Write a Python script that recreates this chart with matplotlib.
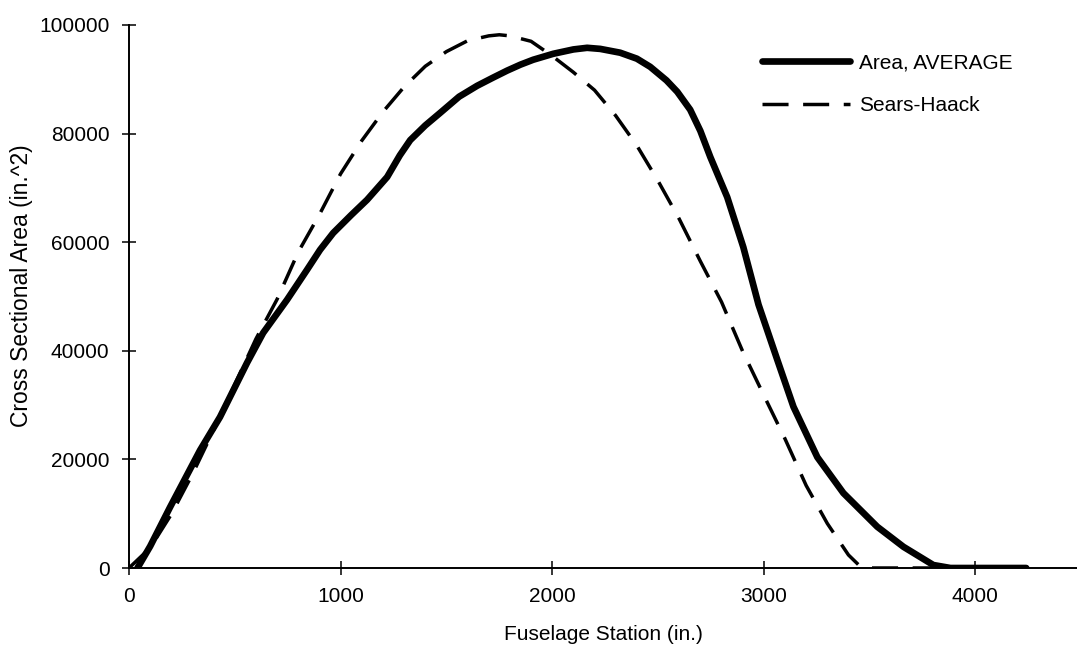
import matplotlib
matplotlib.use("Agg")
import matplotlib.pyplot as plt

# Area, AVERAGE (solid)
avg_x = [40, 100, 194, 336, 430, 558, 634, 747, 841, 903, 965, 1050, 1125, 1220, 1280,
         1329, 1400, 1470, 1560, 1645, 1720, 1787, 1850, 1910, 2005, 2100, 2165, 2227,
         2321, 2400, 2463, 2540, 2591, 2652, 2700, 2747, 2827, 2903, 2975, 3064, 3140,
         3253, 3376, 3536, 3660, 3801, 3882, 4240]
avg_y = [0, 4000, 11200, 21700, 27800, 37800, 43300, 49400, 54900, 58600, 61700, 65000,
         67800, 72000, 76000, 78800, 81500, 83800, 86800, 88800, 90300, 91600, 92700,
         93600, 94700, 95500, 95800, 95600, 94900, 93800, 92300, 89800, 87700, 84400,
         80500, 75700, 68300, 59100, 48500, 38300, 29700, 20400, 13800, 7600, 3900, 550,
         0, 0]

# Sears-Haack (dashed)
sh_x = [0, 100, 200, 300, 400, 500, 600, 700, 800, 900, 1000, 1100, 1200, 1300, 1400,
        1500, 1600, 1700, 1750, 1800, 1900, 2000, 2100, 2200, 2300, 2400, 2500, 2600,
        2700, 2800, 2900, 3000, 3100, 3200, 3300, 3400, 3450, 3490, 4240]
sh_y = [0, 3700, 9900, 17300, 25400, 33800, 42200, 49500, 58200, 65100, 72600, 78700,
        84000, 88600, 92400, 95100, 97100, 98000, 98200, 98000, 97000, 94300, 91300,
        88000, 83300, 77800, 71300, 64300, 56500, 49000, 39900, 31800, 23800, 15200,
        8200, 2400, 500, 0, 0]

x_ticks = [0, 1000, 2000, 3000, 4000]
y_ticks = [0, 20000, 40000, 60000, 80000, 100000]

plt.rcParams['font.family'] = ['Liberation Sans', 'DejaVu Sans']

W, H = 1077, 646
fig = plt.figure(figsize=(W / 100, H / 100), dpi=100)
ax = fig.add_axes([129 / W, 1 - 568 / H, 948 / W, 543 / H])

ax.plot(avg_x, avg_y, color='black', lw=4.8, solid_capstyle='round',
        solid_joinstyle='round', label='Area, AVERAGE')
ax.plot(sh_x, sh_y, color='black', lw=2.5, dashes=(7.5, 4.2), label='Sears-Haack')

ax.set_xlim(0, 4480)
ax.set_ylim(0, 100000)
ax.set_xticks(x_ticks)
ax.set_yticks(y_ticks)
ax.set_xticklabels([str(v) for v in x_ticks])
ax.set_yticklabels([str(v) for v in y_ticks])
for s in ['top', 'right']:
    ax.spines[s].set_visible(False)
for s in ['left', 'bottom']:
    ax.spines[s].set_linewidth(1.4)
ax.tick_params(direction='inout', length=10, width=1.1, labelsize=15, pad=9)
ax.set_xlabel('Fuselage Station (in.)', fontsize=15, va='center')
ax.xaxis.set_label_coords(0.5, -(635 - 568) / 543)
ax.set_ylabel('Cross Sectional Area (in.^2)', fontsize=16.5, va='center')
ax.yaxis.set_label_coords(-(129 - 22) / 948, 0.52)

leg = ax.legend(loc='center left', bbox_to_anchor=(762 / W, 1 - 84 / H),
                bbox_transform=fig.transFigure, frameon=False, fontsize=15,
                handlelength=4.2, labelspacing=1.15, handletextpad=0.45,
                borderpad=0, borderaxespad=0)
fig.savefig('out.png', dpi=100)
